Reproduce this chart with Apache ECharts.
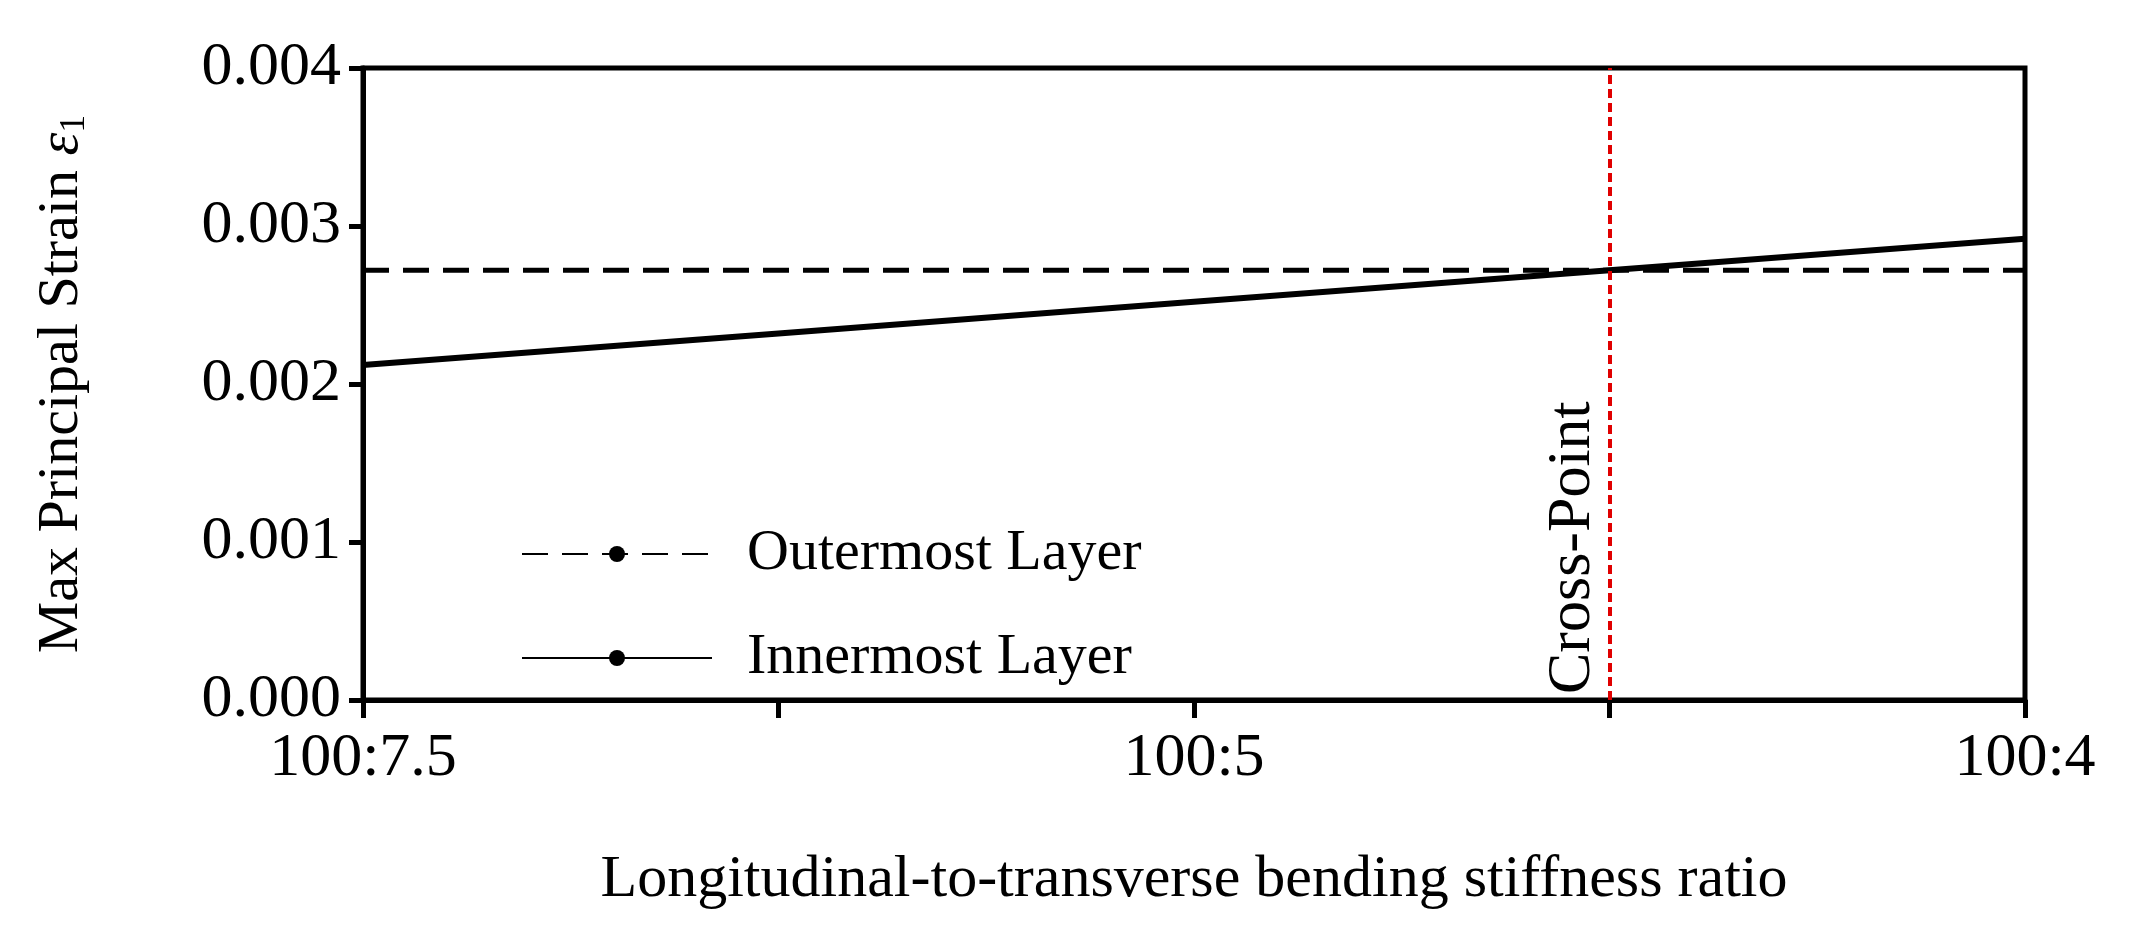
<!DOCTYPE html>
<html>
<head>
<meta charset="utf-8">
<script src="https://cdn.jsdelivr.net/npm/echarts@6/dist/echarts.min.js"></script>
<style>html,body{margin:0;padding:0;background:#fff}#chart{width:2131px;height:939px}</style>
</head>
<body>
<div id="chart"></div>
<script>
// x positions: 0 = 100:7.5, 2 = 100:5, 4 = 100:4
var xTickLabels = {0: '100:7.5', 2: '100:5', 4: '100:4'};
var xPoints = [0, 1, 2, 3, 4];
var outermost = [0.00272, 0.00272, 0.00272, 0.00272, 0.00272];
var innermost = [0.00212, 0.00232, 0.00252, 0.00272, 0.00292];
var crossX = 3;

function pairs(xs, ys) {
    var out = [];
    for (var i = 0; i < xs.length; i++) out.push([xs[i], ys[i]]);
    return out;
}

var font = 'Liberation Serif';
var chart = echarts.init(document.getElementById('chart'));
chart.setOption({
    animation: false,
    textStyle: {fontFamily: font, color: '#000'},
    grid: {left: 363, right: 106, top: 68, bottom: 239, show: true, borderColor: '#000', borderWidth: 5},
    legend: {
        left: 516, top: 520, orient: 'vertical', itemWidth: 190, itemHeight: 20, itemGap: 46,
        textStyle: {fontFamily: font, fontSize: 58, color: '#000', padding: [0, 0, 0, 30]},
        data: ['Outermost Layer', 'Innermost Layer']
    },
    xAxis: {
        type: 'value', min: 0, max: 4, interval: 1,
        name: 'Longitudinal-to-transverse bending stiffness ratio',
        nameLocation: 'middle', nameGap: 150,
        nameTextStyle: {fontFamily: font, fontSize: 60, color: '#000'},
        axisLine: {lineStyle: {color: '#000', width: 5}},
        axisTick: {length: 18, lineStyle: {color: '#000', width: 5}},
        axisLabel: {
            fontFamily: font, fontSize: 62, color: '#000', margin: 28,
            formatter: function (v) { return xTickLabels[v] || ''; },
            alignMinLabel: 'center', alignMaxLabel: 'center'
        },
        splitLine: {show: false}
    },
    yAxis: {
        type: 'value', min: 0, max: 0.004, interval: 0.001,
        name: '{a|Max Principal Strain }{i|ε}{s|1}',
        nameLocation: 'middle', nameGap: 270,
        nameTextStyle: {
            fontFamily: font, fontSize: 58, color: '#000',
            rich: {
                a: {fontFamily: font, fontSize: 58, color: '#000'},
                i: {fontFamily: font, fontSize: 58, fontStyle: 'italic', color: '#000'},
                s: {fontFamily: font, fontSize: 36, color: '#000', padding: [26, 0, 0, 0]}
            }
        },
        axisLine: {lineStyle: {color: '#000', width: 5}},
        axisTick: {length: 14, lineStyle: {color: '#000', width: 5}},
        axisLabel: {
            fontFamily: font, fontSize: 62, color: '#000', margin: 22,
            formatter: function (v) { return v.toFixed(3); }
        },
        splitLine: {show: false}
    },
    series: [
        {
            name: 'Outermost Layer', type: 'line', symbol: 'none',
            data: pairs(xPoints, outermost),
            lineStyle: {color: '#000', width: 5, type: [26, 14]},
            itemStyle: {color: '#000'}
        },
        {
            name: 'Innermost Layer', type: 'line', symbol: 'none',
            data: pairs(xPoints, innermost),
            lineStyle: {color: '#000', width: 6},
            itemStyle: {color: '#000'},
            markLine: {
                silent: true, symbol: 'none',
                lineStyle: {color: '#e00000', width: 4, type: [9, 5]},
                label: {
                    show: true, position: 'insideStartTop', formatter: 'Cross-Point',
                    fontFamily: font, fontSize: 62, color: '#000', distance: 6
                },
                data: [{xAxis: crossX}]
            }
        }
    ]
});
</script>
</body>
</html>
